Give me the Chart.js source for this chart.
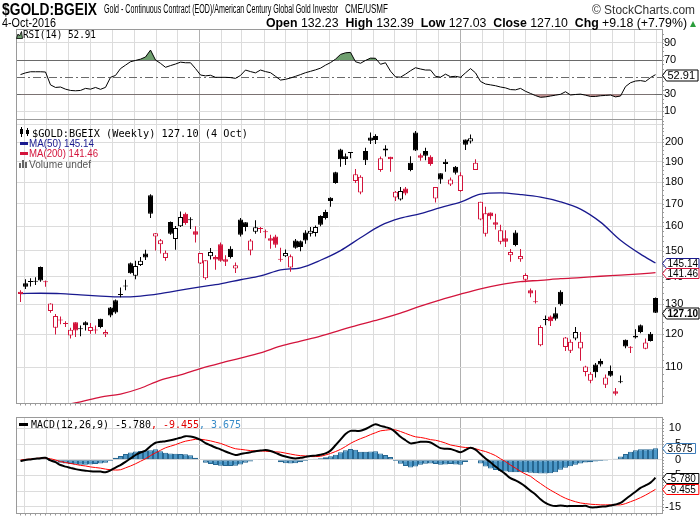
<!DOCTYPE html>
<html>
<head>
<meta charset="utf-8">
<script src="https://cdn.jsdelivr.net/npm/chart.js@4.4.0/dist/chart.umd.min.js"></script>
<style>
  body { margin: 0; width: 700px; height: 530px; overflow: hidden; position: relative; background: #fff;
         font-family: "Liberation Sans", Arial, sans-serif; }
  canvas { position: absolute; left: 0; top: 0; }
  .t { position: absolute; white-space: nowrap; line-height: 1; transform-origin: 0 0; z-index: 2; color: #000; }
  .narrow { font-family: "Liberation Sans Narrow", "Liberation Sans", Arial, sans-serif; }
  .mono { font-family: "DejaVu Sans Mono", monospace; font-size: 10px; }
  .sw { position: absolute; z-index: 2; }
</style>
</head>
<body>
<div class="t narrow" data-w="95" style="left:2px;top:1px;font-size:17px;font-weight:bold">$GOLD:BGEIX</div>
<div class="t narrow" data-w="234" style="left:104px;top:3px;font-size:12.5px">Gold - Continuous Contract (EOD)/American Century Global Gold Investor</div>
<div class="t narrow" data-w="43" style="left:345px;top:3px;font-size:12.5px">CME/USMF</div>
<div class="t" data-w="103" style="left:592px;top:3.5px;font-size:12px;color:#333">© StockCharts.com</div>
<div class="t narrow" data-w="54" style="left:2px;top:17px;font-size:12px">4-Oct-2016</div>
<div class="t narrow" data-w="421" style="left:266px;top:17px;font-size:12px"><b>Open</b> 132.23 &nbsp;<b>High</b> 132.39 &nbsp;<b>Low</b> 127.03 &nbsp;<b>Close</b> 127.10 &nbsp;<b>Chg</b> +9.18 (+7.79%)</div>
<div class="sw" style="left:690px;top:21px;width:0;height:0;border-left:3.5px solid transparent;border-right:3.5px solid transparent;border-bottom:6px solid #2a9d3a"></div>

<svg class="sw" style="left:16px;top:31px" width="7" height="8"><polygon points="0.5,7.5 2,3 3.5,5 5.5,0.5 6.5,7.5" fill="#6f9f6f" stroke="#000" stroke-width="0.8"/></svg>
<div class="t mono" data-w="73" style="left:23px;top:30px">RSI(14) 52.91</div>

<svg class="sw" style="left:19px;top:127px" width="11" height="10"><line x1="2.5" y1="0" x2="2.5" y2="10" stroke="#000"/><rect x="1" y="2" width="3" height="5" fill="#000"/><line x1="8.5" y1="1" x2="8.5" y2="9" stroke="#000"/><rect x="7" y="3" width="3" height="4" fill="#000"/></svg>
<div class="t mono" data-w="216" style="left:32px;top:128.5px">$GOLD:BGEIX (Weekly) 127.10 (4 Oct)</div>
<div class="sw" style="left:20px;top:142px;width:8px;height:3px;background:#1a1a8f"></div>
<div class="t" data-w="65" style="left:29px;top:138.5px;font-size:10px;color:#1a1a8f">MA(50) 145.14</div>
<div class="sw" style="left:20px;top:152px;width:8px;height:3px;background:#d3143c"></div>
<div class="t" data-w="69" style="left:29px;top:149px;font-size:10px;color:#d3143c">MA(200) 141.46</div>
<svg class="sw" style="left:19px;top:160px" width="9" height="8"><rect x="0" y="3" width="2" height="5" fill="#666"/><rect x="3" y="0" width="2" height="8" fill="#666"/><rect x="6" y="2" width="2" height="6" fill="#666"/></svg>
<div class="t" data-w="62" style="left:29px;top:159.5px;font-size:10px;color:#555">Volume undef</div>

<div class="sw" style="left:19px;top:423px;width:9px;height:3px;background:#000"></div>
<div class="t mono" data-w="210" style="left:31px;top:420px">MACD(12,26,9) -5.780<span style="color:#e00000">, -9.455</span><span style="color:#3a8cc8">, 3.675</span></div>

<canvas id="rsiChart" width="700" height="530"></canvas>
<canvas id="priceChart" width="700" height="530"></canvas>
<canvas id="macdChart" width="700" height="530"></canvas>

<script>
// weekly bars, first bar dated Fri 25 Apr 2014
var firstWeek = '2014-04-25';

var opens = [
  134.4, 137.5, 138.0, 138.1, 143.6, 138.2, 127.7, 122.2, 124.8, 123.6,
  119.7, 124.0, 121.7, 124.0, 121.1, 121.5, 125.1, 120.0, 128.9, 131.4,
  133.3, 136.3, 145.0, 140.3, 144.4, 148.8, 173.8, 155.7, 152.5, 147.1,
  161.9, 154.7, 160.0, 165.4, 162.6, 157.9, 144.9, 139.4, 147.8, 147.5,
  152.5, 146.6, 150.7, 143.0, 162.9, 161.7, 150.0, 157.7, 159.0, 157.6,
  155.0, 155.7, 146.6, 147.8, 143.4, 154.1, 153.8, 157.4, 156.9, 157.2,
  164.5, 166.2, 172.6, 184.7, 196.3, 192.8, 194.4, 180.5, 175.1, 195.5,
  202.6, 203.5, 185.8, 195.8, 192.5, 172.7, 171.8, 176.9, 189.5, 205.3,
  193.3, 195.5, 192.5, 172.3, 184.2, 190.0, 178.8, 187.5, 175.8, 201.6,
  200.5, 185.8, 162.9, 156.9, 166.0, 161.7, 153.6, 155.0, 148.1, 157.4,
  146.6, 138.8, 135.0, 131.0, 116.6, 124.7, 125.9, 127.0, 134.4, 116.1,
  114.9, 118.7, 115.6, 108.6, 106.1, 110.8, 111.8, 105.0, 108.9, 103.2,
  105.7, 118.3, 116.0, 119.0, 123.0, 115.5, 120.2, 132.23
];
var highs = [
  135.0, 139.0, 139.4, 139.7, 143.8, 138.5, 130.4, 126.7, 125.9, 124.3,
  122.2, 124.0, 122.9, 124.3, 123.7, 122.9, 125.1, 121.5, 129.1, 131.7,
  136.0, 138.8, 145.3, 146.0, 147.5, 150.3, 174.3, 157.2, 154.7, 150.0,
  162.1, 160.1, 166.4, 166.0, 163.9, 160.0, 149.0, 146.2, 151.0, 148.1,
  153.3, 148.1, 151.7, 145.3, 163.6, 161.7, 154.7, 162.6, 159.7, 158.7,
  156.4, 156.4, 151.1, 150.4, 148.4, 154.7, 154.1, 158.3, 159.7, 160.3,
  164.8, 167.2, 172.9, 185.0, 196.7, 194.2, 195.0, 186.3, 183.3, 197.2,
  205.3, 204.4, 192.6, 198.5, 192.5, 175.8, 177.7, 177.7, 192.8, 206.2,
  194.2, 197.2, 193.3, 177.7, 184.2, 191.2, 182.2, 187.8, 184.7, 201.6,
  204.3, 191.2, 170.8, 168.6, 166.0, 165.4, 160.7, 158.3, 150.6, 158.3,
  150.6, 141.2, 135.6, 135.0, 123.0, 126.2, 126.2, 129.0, 135.0, 119.2,
  118.4, 122.4, 120.8, 110.4, 108.6, 111.2, 112.5, 107.9, 110.5, 104.1,
  107.6, 118.4, 116.3, 121.7, 123.2, 118.7, 120.8, 132.39
];
var lows = [
  130.8, 135.4, 136.3, 136.9, 138.1, 136.2, 127.1, 120.0, 123.3, 122.4,
  118.7, 119.2, 119.4, 121.3, 120.2, 120.2, 122.0, 119.2, 125.6, 126.8,
  132.5, 135.0, 141.0, 139.0, 144.0, 146.3, 163.6, 150.0, 148.8, 146.0,
  156.4, 150.3, 159.7, 160.7, 158.9, 153.3, 144.7, 138.8, 146.5, 142.5,
  145.6, 144.0, 146.9, 141.3, 155.7, 157.9, 148.1, 156.9, 157.2, 155.0,
  150.7, 151.1, 145.6, 147.5, 141.8, 150.7, 149.7, 152.8, 155.7, 155.7,
  160.0, 162.9, 168.6, 179.2, 187.5, 188.3, 191.7, 179.5, 174.3, 188.3,
  199.2, 199.2, 185.0, 192.6, 185.0, 171.1, 171.4, 173.8, 185.3, 195.5,
  190.5, 190.8, 188.0, 170.5, 179.2, 185.0, 178.1, 183.7, 175.4, 196.0,
  199.5, 185.8, 162.6, 155.7, 162.9, 158.6, 152.5, 151.4, 145.6, 151.7,
  145.6, 137.9, 132.5, 130.3, 116.3, 123.0, 122.7, 124.5, 129.5, 114.8,
  114.2, 118.2, 111.9, 107.4, 105.4, 107.0, 110.2, 104.1, 107.2, 102.0,
  105.4, 115.7, 114.2, 118.7, 120.4, 115.4, 117.8, 127.03
];
var closes = [
  133.6, 136.2, 138.1, 138.3, 138.5, 137.9, 130.3, 126.0, 124.5, 123.4,
  121.5, 121.3, 121.9, 123.0, 122.4, 121.3, 122.4, 120.8, 126.2, 127.2,
  133.6, 136.6, 141.2, 144.0, 146.0, 147.3, 165.4, 157.1, 154.2, 149.1,
  156.9, 159.3, 164.0, 161.4, 162.8, 156.4, 149.0, 146.2, 149.4, 146.5,
  146.0, 145.6, 147.5, 144.3, 156.4, 159.7, 154.1, 159.6, 158.9, 157.5,
  154.0, 152.3, 146.4, 149.0, 147.8, 151.1, 151.4, 154.1, 158.1, 159.7,
  160.7, 163.6, 171.1, 179.5, 191.2, 191.4, 194.6, 183.8, 182.5, 190.8,
  200.9, 201.3, 191.7, 196.8, 191.2, 175.4, 175.8, 174.6, 185.8, 195.8,
  192.0, 193.0, 188.8, 177.7, 181.2, 188.8, 181.2, 184.5, 183.3, 198.8,
  202.2, 189.5, 170.8, 165.7, 164.3, 160.7, 158.3, 153.6, 149.4, 152.2,
  147.9, 140.6, 133.8, 130.7, 122.4, 124.9, 124.3, 125.1, 130.0, 119.0,
  117.7, 120.8, 117.7, 110.2, 108.1, 108.5, 110.8, 107.0, 107.5, 102.5,
  105.9, 116.2, 115.8, 119.6, 120.8, 117.5, 117.92, 127.10
];

// moving averages, read every 4th week
var ma50Weeks = [0, 4, 8, 12, 16, 20, 24, 28, 32, 36, 40, 44, 48, 52, 56, 60, 64,
                 68, 72, 76, 80, 84, 88, 92, 96, 100, 104, 108, 112, 116, 120, 124, 127];
var ma50 = [133.8, 133.9, 133.8, 133.3, 132.9, 132.6, 132.9, 133.8, 135.0, 136.2, 137.3,
            138.8, 140.2, 142.5, 143.3, 146.2, 150.0, 155.2, 160.3, 163.5, 165.5, 168.2,
            170.6, 174.3, 174.9, 174.1, 172.9, 170.8, 167.5, 161.8, 154.2, 148.6, 145.14];
var ma200Weeks = [8, 12, 16, 20, 24, 28, 32, 36, 40, 44, 48, 52, 56, 60, 64, 68,
                  72, 76, 80, 84, 88, 92, 96, 100, 104, 108, 112, 116, 120, 124, 127];
var ma200 = [99.3, 100.3, 101.6, 102.4, 104.0, 106.3, 107.8, 109.6, 111.2, 112.7, 114.3,
             116.3, 117.9, 119.5, 121.4, 123.3, 125.0, 127.0, 129.4, 131.6, 133.6, 135.5,
             137.0, 138.1, 138.6, 139.2, 139.6, 140.1, 140.5, 141.0, 141.46];

var rsi = [
  53, 55, 56.3, 56.3, 56.3, 56, 41, 38, 38.5, 36,
  34.5, 34.1, 34.5, 36.9, 36, 38, 35.8, 38.1, 49.8, 52,
  60, 64, 68, 69.5, 71, 73.5, 81.6, 70, 66.1, 61.5,
  63.5, 65.3, 67.5, 66.8, 66.8, 60, 52.5, 51.5, 52.2, 49.8,
  49.8, 49.8, 49.5, 48.6, 52, 58.3, 56.5, 55, 58.3, 56.5,
  55.2, 51, 46.6, 47.5, 49, 51, 53, 55.2, 56.8, 58.5,
  60.5, 64, 67, 71, 76.5, 78.4, 78.9, 68, 66.2, 69.5,
  72.2, 72, 65, 66.8, 57, 50.3, 50, 53.5, 57.5, 61,
  59.5, 58.3, 58.3, 51, 50, 53.5, 50.5, 51, 49.8, 55,
  60, 55, 45, 42, 41, 40, 38.5, 37.5, 35.5, 35.2,
  36.9, 33.5, 31, 28.5, 26.5, 27, 28, 29, 30, 33,
  29.2, 29.8, 30.2, 29, 27.5, 27.5, 28.3, 28.7, 29.1, 27,
  28, 39, 43.5, 45.5, 46, 45, 49.5, 52.91
];

var macd = [
  -0.4, -0.1, 0.1, 0.3, 0.5, 0.6, -0.2, -0.8, -1.7, -2.2,
  -2.6, -3.0, -3.3, -3.5, -3.7, -3.8, -3.8, -4.0, -3.4, -2.5,
  -1.7, -0.7, 0.4, 1.5, 2.3, 2.9, 4.3, 5.4, 5.7, 5.9,
  6.2, 6.6, 7.0, 7.5, 7.4, 7.0, 6.3, 5.3, 4.6, 3.9,
  3.3, 2.6, 2.0, 1.5, 1.8, 2.1, 2.4, 2.7, 2.9, 3.1,
  2.8, 2.2, 1.5, 1.0, 0.6, 0.4, 0.6, 0.9, 1.2, 1.3,
  1.6, 2.0, 2.9, 4.6, 6.4, 8.2, 9.2, 9.2, 9.2, 9.8,
  10.6, 11.3, 10.8, 10.4, 9.9, 8.8, 7.3, 6.2, 5.2, 5.4,
  5.7, 5.7, 5.5, 4.6, 3.7, 3.5, 3.4, 2.9, 2.4, 3.1,
  3.8, 3.2, 1.8, 0.4, -0.8, -2.2, -3.4, -4.6, -5.9, -6.6,
  -7.5, -8.6, -9.9, -11.1, -12.6, -13.8, -14.5, -14.8, -14.6, -14.8,
  -14.8, -14.8, -14.8, -14.7, -15.2, -15.2, -15.0, -14.9, -14.6, -14.3,
  -13.8, -12.6, -11.4, -10.2, -9.0, -8.2, -7.3, -5.78
];
var signal = [
  -0.1, 0.1, 0.2, 0.4, 0.5, 0.5, 0.3, -0.1, -0.6, -0.9,
  -1.2, -1.5, -1.8, -2.0, -2.3, -2.5, -2.7, -3.0, -3.2, -3.3,
  -3.2, -2.6, -2.0, -1.3, -0.5, 0.3, 1.3, 2.2, 3.0, 3.8,
  4.3, 4.8, 5.4, 5.9, 6.2, 6.5, 6.5, 6.3, 6.0, 5.6,
  5.2, 4.6, 4.0, 3.5, 3.3, 3.1, 2.9, 2.8, 2.8, 2.7,
  2.6, 2.5, 2.4, 2.1, 1.8, 1.5, 1.3, 1.2, 1.0, 1.0,
  1.1, 1.5, 2.0, 2.6, 3.3, 4.2, 5.2, 6.0, 6.7, 7.3,
  8.0, 8.6, 9.2, 9.4, 9.6, 9.5, 9.0, 8.4, 7.8, 7.3,
  7.1, 6.8, 6.4, 6.2, 5.8, 5.3, 4.7, 4.4, 4.1, 3.9,
  3.8, 3.5, 3.0, 2.6, 2.0, 1.3, 0.3, -0.6, -1.7, -2.7,
  -3.7, -4.6, -5.3, -6.5, -7.6, -8.7, -9.7, -10.6, -11.5, -12.3,
  -12.9, -13.4, -13.8, -14.0, -14.2, -14.3, -14.4, -14.4, -14.4, -14.4,
  -14.4, -14.0, -13.4, -12.8, -12.1, -11.3, -10.4, -9.455
];
var hist = [
  -0.2, -0.1, 0, 0, 0.1, 0.1, -0.4, -0.6, -1.0, -1.2,
  -1.4, -1.5, -1.6, -1.6, -1.5, -1.4, -1.2, -1.0, -0.4, 0.6,
  1.2, 1.8, 2.3, 2.6, 2.8, 2.9, 3.0, 3.3, 2.7, 2.2,
  2.0, 1.9, 1.8, 1.7, 1.4, 0.6, -0.2, -1.0, -1.4, -1.7,
  -1.9, -2.0, -2.0, -1.9, -1.5, -1.0, -0.6, -0.2, 0.1, 0.3,
  0.2, -0.2, -0.8, -1.1, -1.2, -1.1, -0.8, -0.4, 0.1, 0.3,
  0.5, 0.8, 1.1, 1.6, 2.4, 3.0, 3.4, 3.2, 2.5, 2.5,
  2.6, 2.7, 2.0, 1.5, 0.9, -0.4, -1.3, -2.0, -2.5, -2.2,
  -1.6, -1.3, -1.2, -1.4, -1.6, -1.5, -1.4, -1.5, -1.6, -0.7,
  0.1, -0.2, -1.2, -2.2, -2.8, -3.3, -3.6, -3.8, -4.0, -4.0,
  -4.0, -4.0, -4.2, -4.3, -4.4, -4.4, -4.3, -4.0, -3.2, -2.6,
  -2.1, -1.6, -1.2, -0.9, -0.8, -0.6, -0.4, -0.3, -0.2, 0.3,
  1.0, 1.8, 2.5, 3.0, 3.3, 3.3, 3.3, 3.675
];

// axis ticks
var monthLabels = ['M', 'J', 'J', 'A', 'S', 'O', 'N', 'D',
  '15', 'F', 'M', 'A', 'M', 'J', 'J', 'A', 'S', 'O', 'N', 'D',
  '16', 'F', 'M', 'A', 'M', 'J', 'J', 'A', 'S', 'O'];
var priceTicks = [100, 110, 120, 130, 140, 150, 160, 170, 180, 190, 200, 210];
var priceLabels = [110, 120, 130, 140, 150, 160, 170, 180, 190, 200];
var rsiTicks = [10, 30, 50, 70, 90];
var macdTicks = [-15, -10, -5, 0, 5, 10];

var FONT = '"Liberation Sans", Arial, sans-serif';
var RED = '#d3143c';
var NAVY = '#1a1a8f';
Chart.defaults.font.family = FONT;
Chart.defaults.font.size = 11;
Chart.defaults.color = '#000';

function dayOf(s) {
  var p = s.split('-');
  return Date.UTC(+p[0], +p[1] - 1, +p[2]) / 864e5;
}
var day0 = dayOf(firstWeek);
var weeks = opens.map(function (_, i) { return day0 + 7 * i; });
var xMin = day0 - 4.9;
var xMax = xMin + 903;
var monthDays = monthLabels.map(function (_, i) { return Date.UTC(2014, 4 + i, 1) / 864e5; });
var isYear = function (i) { return /\d/.test(monthLabels[i] || ''); };

var candleColor = closes.map(function (c, i) {
  var up = i ? c >= closes[i - 1] : c >= opens[i];
  return up ? '#000' : RED;
});
var bodyFill = closes.map(function (c, i) { return c > opens[i] ? '#fff' : candleColor[i]; });

function xScale(showLabels, pad) {
  return {
    type: 'linear', min: xMin, max: xMax, offset: false,
    afterBuildTicks: function (s) { s.ticks = monthDays.map(function (v) { return { value: v }; }); },
    afterFit: function (s) { s.height = 0; s.paddingLeft = 0; s.paddingRight = 0; },
    grid: {
      offset: false, drawTicks: false, lineWidth: 1,
      color: function (c) { return isYear(c.index) ? '#b0b0b0' : '#dcdcdc'; }
    },
    border: { display: false },
    ticks: {
      display: showLabels, autoSkip: false, maxRotation: 0, padding: pad, color: '#000',
      font: function (c) { return { size: 10, weight: isYear(c.index) ? 'bold' : 'normal' }; },
      callback: function (v, i) { return monthLabels[i]; }
    }
  };
}

function yFitTo(width) {
  return function (s) { s.width = width; s.paddingTop = 0; s.paddingBottom = 0; };
}

function drawTag(ctx, x, y, text, color, font, h) {
  ctx.font = font;
  var w = ctx.measureText(text).width + 3;
  var x0 = x + 0.5, y0 = Math.round(y) + 0.5;
  if (x0 + 5 + w > 699) w = 699 - x0 - 5;
  ctx.beginPath();
  ctx.moveTo(x0, y0);
  ctx.lineTo(x0 + 4, y0 - h / 2);
  ctx.lineTo(x0 + 5 + w, y0 - h / 2);
  ctx.lineTo(x0 + 5 + w, y0 + h / 2);
  ctx.lineTo(x0 + 4, y0 + h / 2);
  ctx.closePath();
  ctx.fillStyle = '#fff';
  ctx.fill();
  ctx.strokeStyle = color;
  ctx.lineWidth = 1;
  ctx.stroke();
  ctx.fillStyle = '#000';
  ctx.textAlign = 'left';
  ctx.textBaseline = 'middle';
  ctx.fillText(text, x0 + 5, y0 + 0.5);
}

function decor(opts) {
  return {
    id: 'decor',
    beforeDatasetsDraw: function (chart) {
      if (opts.dashAt == null) return;
      var ctx = chart.ctx, a = chart.chartArea;
      var py = Math.round(chart.scales.y.getPixelForValue(opts.dashAt)) + 0.5;
      ctx.save();
      ctx.strokeStyle = '#6a6a6a';
      ctx.lineWidth = 1;
      ctx.setLineDash([8, 3, 2, 3]);
      ctx.beginPath();
      ctx.moveTo(a.left, py);
      ctx.lineTo(a.right, py);
      ctx.stroke();
      ctx.restore();
    },
    afterDraw: function (chart) {
      var ctx = chart.ctx, a = chart.chartArea, x = chart.scales.x, y = chart.scales.y;
      ctx.save();
      ctx.strokeStyle = '#9a9a9a';
      ctx.lineWidth = 1;
      ctx.strokeRect(a.left - 0.5, a.top - 0.5, a.right - a.left + 1, a.bottom - a.top + 1);
      ctx.beginPath();
      if (opts.weekTicks) {
        weeks.forEach(function (d) {
          var px = Math.round(x.getPixelForValue(d)) + 0.5;
          ctx.moveTo(px, a.bottom + 0.5);
          ctx.lineTo(px, a.bottom + 2.5);
        });
      }
      (opts.minor || []).forEach(function (v) {
        var py = Math.round(y.getPixelForValue(v)) + 0.5;
        if (py < a.top || py > a.bottom) return;
        ctx.moveTo(a.right, py);
        ctx.lineTo(a.right + 2, py);
      });
      ctx.stroke();
      opts.tags.forEach(function (t) {
        drawTag(ctx, a.right, y.getPixelForValue(t.value), t.text, t.color, t.font, t.h);
      });
      ctx.restore();
    }
  };
}

function range(a, b, step) {
  var out = [];
  for (var v = a; v <= b + 1e-9; v += step) out.push(+v.toFixed(2));
  return out;
}

var baseOptions = function (padTop, bottom, padRight) {
  return {
    responsive: false,
    animation: false,
    events: [],
    layout: { padding: { left: 17, right: padRight || 0, top: padTop, bottom: 530 - bottom } },
    plugins: { legend: { display: false }, tooltip: { enabled: false } }
  };
};

// ---------- RSI panel ----------
var rsiPts = weeks.map(function (d, i) { return { x: d, y: rsi[i] }; });
var rsiOpts = baseOptions(30, 119);
rsiOpts.scales = {
  x: xScale(false, 0),
  y: {
    type: 'linear', position: 'right', min: 1.2, max: 105,
    afterBuildTicks: function (s) { s.ticks = rsiTicks.map(function (v) { return { value: v }; }); },
    afterFit: yFitTo(38),
    grid: {
      drawTicks: false,
      color: function (c) {
        var v = c.tick && c.tick.value;
        if (v === 70 || v === 30) return '#6a6a6a';
        if (v === 50) return 'rgba(0,0,0,0)';
        return '#dcdcdc';
      }
    },
    border: { display: false },
    ticks: { padding: 2, color: '#000', font: { size: 11 },
      callback: function (v) { return v === 50 ? '' : String(v); } }
  }
};
new Chart(document.getElementById('rsiChart'), {
  type: 'line',
  data: {
    datasets: [
      { data: rsiPts, borderColor: '#000', borderWidth: 1, pointRadius: 0, tension: 0,
        fill: { target: { value: 70 }, above: '#6f9f6f', below: 'rgba(0,0,0,0)' } },
      { data: rsiPts, borderColor: 'rgba(0,0,0,0)', borderWidth: 0, pointRadius: 0, tension: 0,
        fill: { target: { value: 30 }, above: 'rgba(0,0,0,0)', below: '#c39393' } }
    ]
  },
  options: rsiOpts,
  plugins: [decor({
    dashAt: 50,
    minor: range(5, 100, 5),
    tags: [{ value: rsi[rsi.length - 1], text: '52.91', color: '#000', font: '11px ' + FONT, h: 11 }]
  })]
});

// ---------- price panel ----------
var priceOpts = baseOptions(120, 403);
priceOpts.scales = {
  x: xScale(true, 1),
  y: {
    type: 'logarithmic', position: 'right', min: 100, max: 212.3,
    afterBuildTicks: function (s) { s.ticks = priceTicks.map(function (v) { return { value: v }; }); },
    afterFit: yFitTo(38),
    grid: { drawTicks: false, color: '#dcdcdc' },
    border: { display: false },
    ticks: { padding: 3, color: '#000', font: { size: 11 },
      callback: function (v) { return priceLabels.indexOf(v) >= 0 ? String(v) : ''; } }
  }
};
var last = closes.length - 1;
new Chart(document.getElementById('priceChart'), {
  type: 'bar',
  data: {
    datasets: [
      { type: 'line', data: ma50Weeks.map(function (k, j) { return { x: weeks[k], y: ma50[j] }; }),
        borderColor: NAVY, borderWidth: 1.3, pointRadius: 0, cubicInterpolationMode: 'monotone', order: 3 },
      { type: 'line', data: ma200Weeks.map(function (k, j) { return { x: weeks[k], y: ma200[j] }; }),
        borderColor: RED, borderWidth: 1.3, pointRadius: 0, cubicInterpolationMode: 'monotone', order: 3 },
      { data: weeks.map(function (d, i) { return { x: d, y: [lows[i], highs[i]] }; }),
        backgroundColor: candleColor, barThickness: 1, grouped: false, inflateAmount: 0,
        minBarLength: 1, borderWidth: 0, order: 2 },
      { data: weeks.map(function (d, i) { return { x: d, y: [opens[i], closes[i]] }; }),
        backgroundColor: bodyFill, borderColor: candleColor, borderWidth: 1, borderSkipped: false,
        barThickness: 5, grouped: false, inflateAmount: 0, minBarLength: 1, order: 1 }
    ]
  },
  options: priceOpts,
  plugins: [decor({
    weekTicks: true,
    minor: range(100, 212, 2),
    tags: [
      { value: ma50[ma50.length - 1], text: '145.14', color: NAVY, font: '10px ' + FONT, h: 10 },
      { value: ma200[ma200.length - 1], text: '141.46', color: RED, font: '10px ' + FONT, h: 10 },
      { value: closes[last], text: '127.10', color: '#000', font: 'bold 10px ' + FONT, h: 11 }
    ]
  })]
});

// ---------- MACD panel ----------
// axis box narrowed so 'far' labels end right-aligned near x=681
var macdOpts = baseOptions(418, 513, 19);
macdOpts.scales = {
  x: xScale(true, 2),
  y: {
    type: 'linear', position: 'right', min: -17, max: 13.3,
    afterBuildTicks: function (s) { s.ticks = macdTicks.map(function (v) { return { value: v }; }); },
    afterFit: yFitTo(19),
    grid: { drawTicks: false, color: '#dcdcdc' },
    border: { display: false },
    ticks: { padding: 2, crossAlign: 'far', color: '#000', font: { size: 11 } }
  }
};
new Chart(document.getElementById('macdChart'), {
  type: 'bar',
  data: {
    datasets: [
      { type: 'line', data: weeks.map(function (d, i) { return { x: d, y: macd[i] }; }),
        borderColor: '#000', borderWidth: 2, pointRadius: 0, tension: 0.3, order: 1 },
      { type: 'line', data: weeks.map(function (d, i) { return { x: d, y: signal[i] }; }),
        borderColor: '#ff0000', borderWidth: 1, pointRadius: 0, tension: 0.3, order: 2 },
      { data: weeks.map(function (d, i) { return { x: d, y: hist[i] }; }),
        backgroundColor: '#4c98c8', borderColor: '#276791', borderWidth: 1, borderSkipped: false,
        barThickness: 5, grouped: false, inflateAmount: 0, order: 3 }
    ]
  },
  options: macdOpts,
  plugins: [decor({
    weekTicks: true,
    minor: range(-17, 13, 1),
    tags: [
      { value: hist[last], text: '3.675', color: '#3a7ab8', font: '10px ' + FONT, h: 10 },
      { value: macd[last], text: '-5.780', color: '#000', font: '10px ' + FONT, h: 10 },
      { value: signal[last], text: '-9.455', color: '#ff0000', font: '10px ' + FONT, h: 10 }
    ]
  })]
});

// squeeze header/legend text to the widths seen in the picture
function fitText() {
  document.querySelectorAll('[data-w]').forEach(function (el) {
    el.style.transform = 'none';
    var w = el.getBoundingClientRect().width;
    if (w > 0) el.style.transform = 'scaleX(' + (+el.dataset.w / w) + ')';
  });
}
fitText();
if (document.fonts && document.fonts.ready) document.fonts.ready.then(fitText);
</script>
</body>
</html>
